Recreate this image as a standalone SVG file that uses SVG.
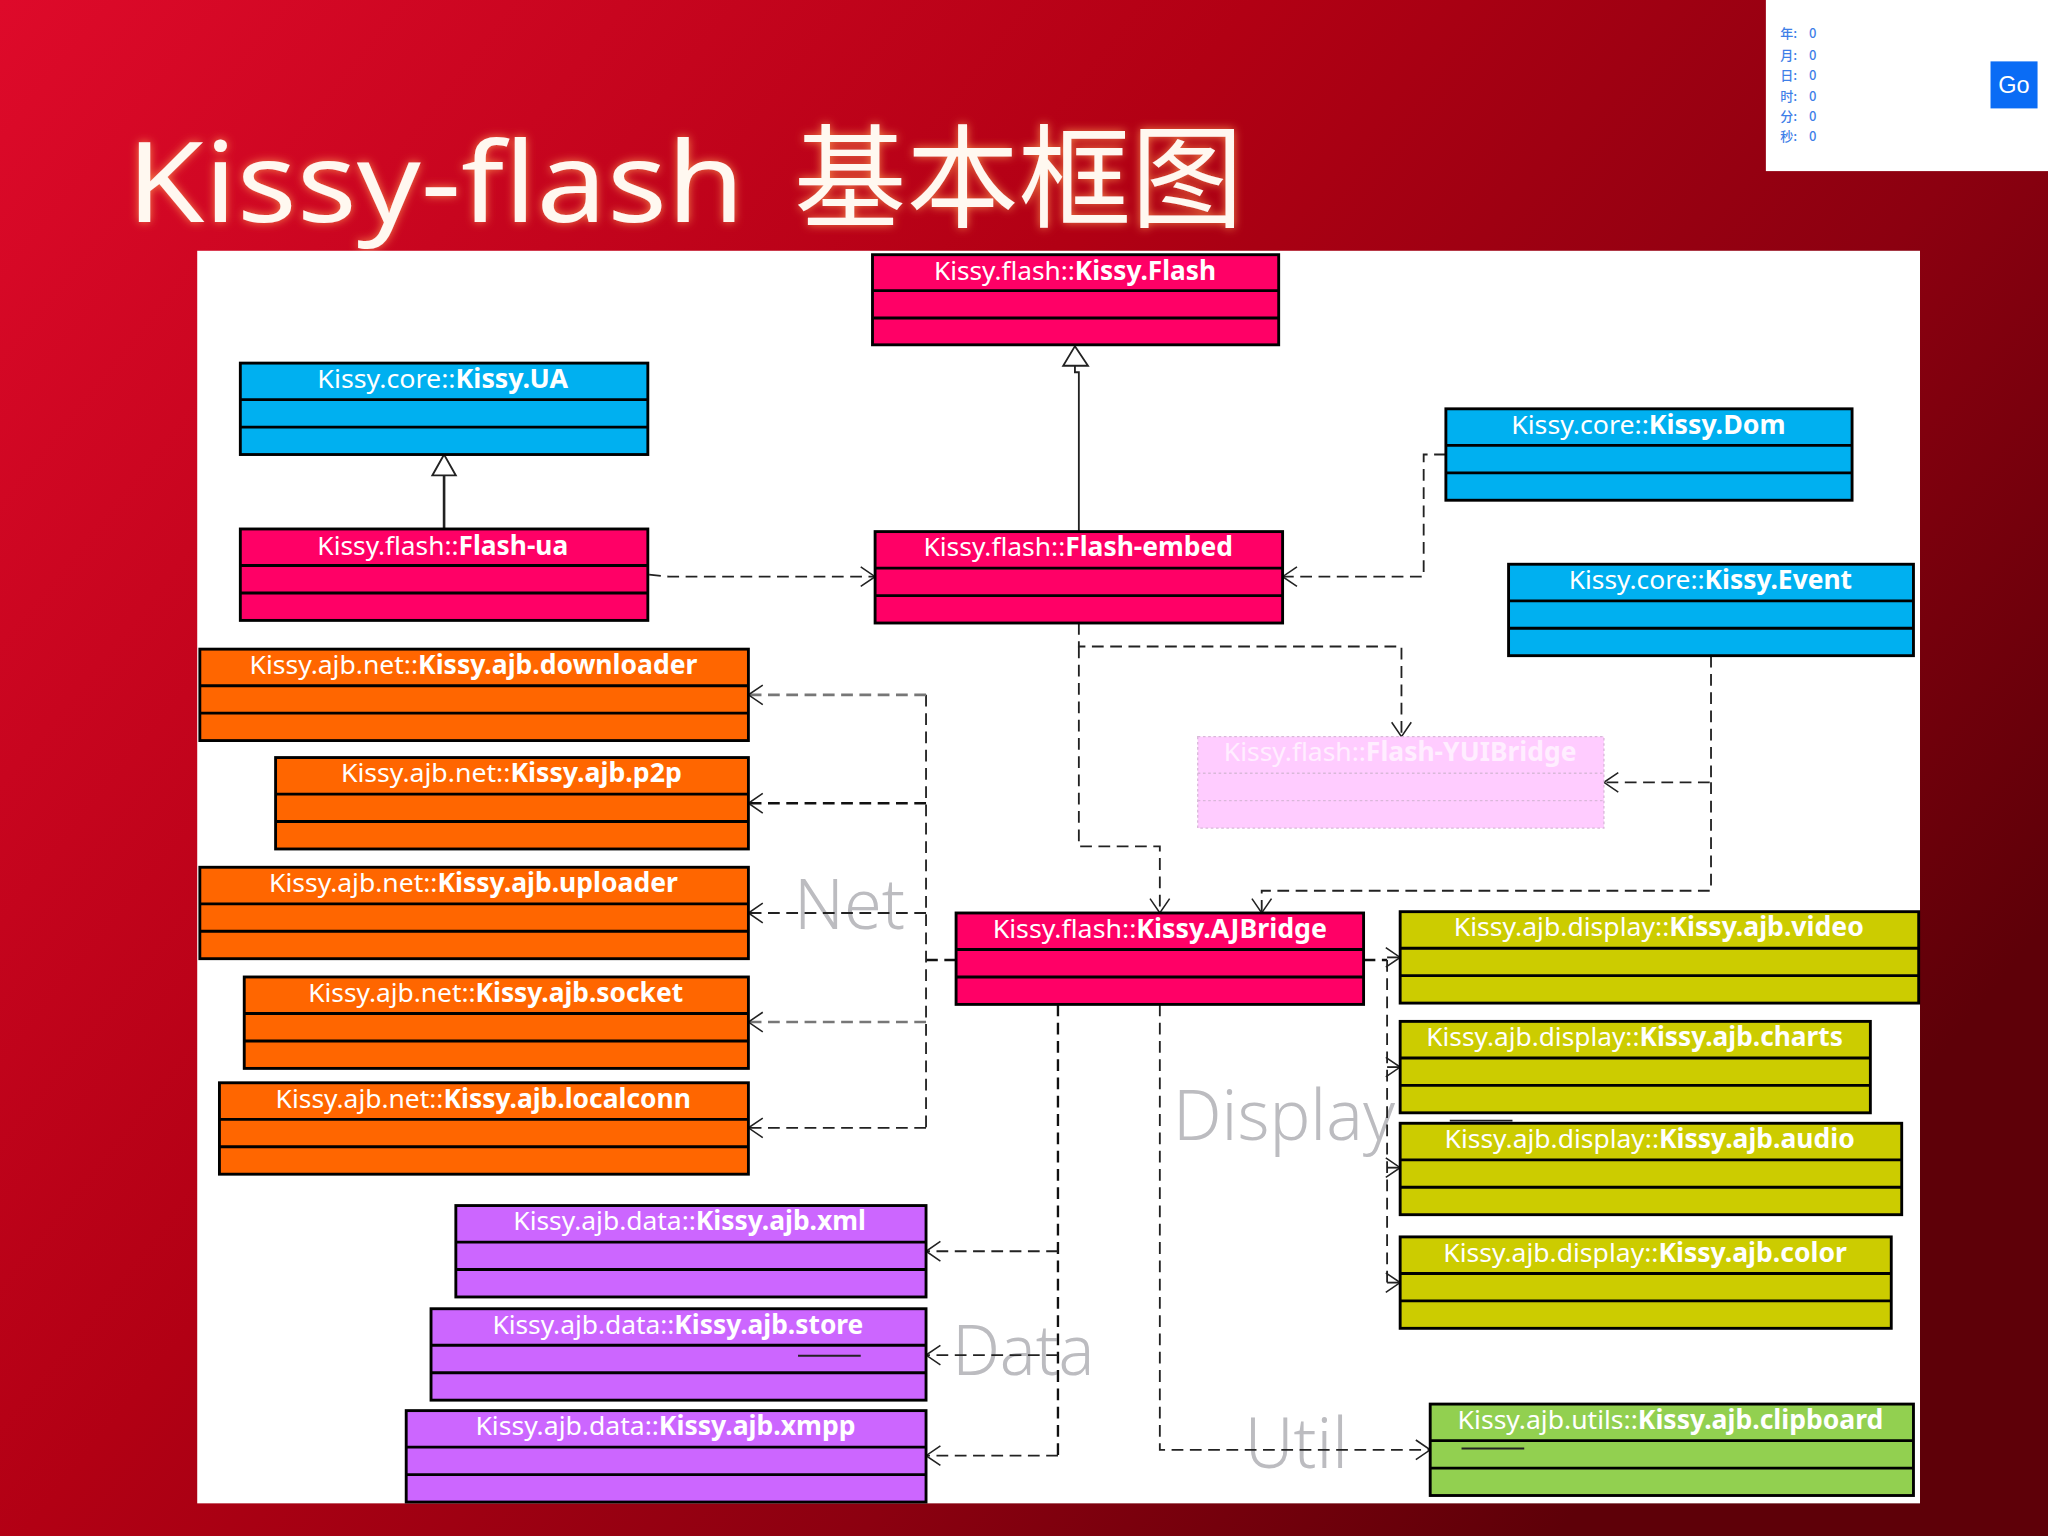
<svg xmlns="http://www.w3.org/2000/svg" width="2048" height="1536" viewBox="0 0 2048 1536">
<style>
.box{stroke:#000;stroke-width:2.2}
.div{stroke:#000;stroke-width:2.2;fill:none}
.pink{fill:#ff0066}.blue{fill:#00b0f0}.orange{fill:#ff6600}.purple{fill:#cc66ff}.olive{fill:#cccc00}.green{fill:#92d050}.pale{fill:#ffccff}
.yui .box,.yui .div{stroke:#d9b8d9;stroke-width:1;stroke-dasharray:2 2}
.t{font-family:"Noto Sans","Liberation Sans",sans-serif;font-size:20px;fill:#fff}
.t tspan{font-weight:700}
.yui .t{fill:#ffeeff}
.c{fill:none;stroke:#222;stroke-width:1.4;stroke-dasharray:9 5}
.c.g{stroke:#777;stroke-width:2}
.c.k{stroke:#111;stroke-width:1.8}
.a{marker-end:url(#open)}
.s{fill:none;stroke:#222;stroke-width:1.4}
.lab{font-family:"Noto Sans","Liberation Sans",sans-serif;font-weight:300;font-size:54px;fill:#bcbcc0}
.cnt{font-family:"Noto Sans CJK SC",sans-serif;font-size:10px;font-weight:500;fill:#3f7fe8}
.ti{font-size:86px;fill:#fff8f0;filter:url(#glow)}
</style>
<defs>
<linearGradient id="bg" x1="0" y1="0" x2="1" y2="0.6">
<stop offset="0" stop-color="#de0a2a"/><stop offset="0.45" stop-color="#b20014"/><stop offset="0.75" stop-color="#8c0010"/><stop offset="1" stop-color="#5e0008"/>
</linearGradient>
<marker id="open" markerUnits="userSpaceOnUse" markerWidth="18" markerHeight="20" refX="13" refY="10" orient="auto">
<path d="M2 2.500L13 10L2 17.500" fill="none" stroke="#222" stroke-width="1.2"/>
</marker>
<filter id="glow" x="-5%" y="-20%" width="110%" height="150%">
<feGaussianBlur in="SourceAlpha" stdDeviation="3.500" result="b"/>
<feFlood flood-color="#ff9a50" flood-opacity="0.85"/>
<feComposite in2="b" operator="in" result="g"/>
<feMerge><feMergeNode in="g"/><feMergeNode in="SourceGraphic"/></feMerge>
</filter>
</defs>
<rect width="2048" height="1536" fill="url(#bg)"/>
<g transform="scale(1.30612)">
<rect x="1352" y="0" width="216" height="131" fill="#fff"/>
<text class="cnt" x="1363" y="29">年:<tspan x="1385">0</tspan></text>
<text class="cnt" x="1363" y="46">月:<tspan x="1385">0</tspan></text>
<text class="cnt" x="1363" y="61">日:<tspan x="1385">0</tspan></text>
<text class="cnt" x="1363" y="77">时:<tspan x="1385">0</tspan></text>
<text class="cnt" x="1363" y="93">分:<tspan x="1385">0</tspan></text>
<text class="cnt" x="1363" y="108">秒:<tspan x="1385">0</tspan></text>
<rect x="1524" y="47" width="36" height="36" fill="#0a6cf5"/>
<text x="1542" y="71" text-anchor="middle" font-family="'Liberation Sans',sans-serif" font-size="18" fill="#fff">Go</text>
<text class="ti" x="97" y="170" font-family="'Noto Sans',sans-serif" textLength="473" lengthAdjust="spacingAndGlyphs">Kissy-flash</text>
<text class="ti" x="608" y="168" font-family="'Noto Sans CJK SC',sans-serif" textLength="344" lengthAdjust="spacingAndGlyphs">基本框图</text>
<rect x="151" y="192" width="1319" height="959" fill="#fff"/>

<text class="lab" x="608" y="711" textLength="85" lengthAdjust="spacingAndGlyphs">Net</text>
<text class="lab" x="898" y="873" textLength="170" lengthAdjust="spacingAndGlyphs">Display</text>
<text class="lab" x="729" y="1053" textLength="109" lengthAdjust="spacingAndGlyphs">Data</text>
<text class="lab" x="953" y="1124" textLength="79" lengthAdjust="spacingAndGlyphs">Util</text>

<g id="connectors">
<path class="s" d="M826 407V285H823V280"/>
<path d="M823 265L814 280H833Z" fill="#fff" stroke="#222" stroke-width="1.4"/>
<path class="s" style="stroke-width:2" d="M340 405V364"/>
<path d="M340 348L331 364H349Z" fill="#fff" stroke="#222" stroke-width="1.4"/>
<path class="c a" d="M497 440L512 441.500H670"/>
<path class="c a" d="M1107 348H1090V441.500H982"/>
<path class="c a" d="M826 477V495H1073V564"/>
<path class="c a" d="M826 495V648H888V699"/>
<path class="c a" d="M1310 502V599H1228"/>
<path class="c a" d="M1310 599V682H966V699"/>
<path class="c k" d="M732 735H709"/>
<path class="c" d="M709 532V863.500"/>
<path class="c g a" d="M709 532H573"/>
<path class="c k a" d="M709 615H573"/>
<path class="c a" d="M709 699H573"/>
<path class="c g a" d="M709 782.500H573"/>
<path class="c a" d="M709 863.500H573"/>
<path class="c k" d="M1044 735H1062"/>
<path class="c" d="M1062 735V982"/>
<path class="c a" d="M1062 733H1072"/>
<path class="c a" d="M1062 817H1072"/>
<path class="c a" d="M1062 894H1072"/>
<path class="c a" d="M1062 982H1072"/>
<path class="c k" d="M810 769V1114.500"/>
<path class="c a" d="M810 958H709"/>
<path class="c a" d="M810 1037.500H709"/>
<path class="c a" d="M810 1114.500H709"/>
<path class="c a" d="M888 769V1110H1095"/>
<path class="s" d="M1110 858H1158"/>
</g>

<g id="kissy-flash" class="pink"><rect class="box" x="668" y="195" width="311" height="69"/><path class="div" d="M668 222.500H979M668 243.500H979"/><text class="t" x="715" y="214" textLength="216" lengthAdjust="spacingAndGlyphs">Kissy.flash::<tspan>Kissy.Flash</tspan></text></g>
<g id="kissy-ua" class="blue"><rect class="box" x="184" y="278" width="312" height="70"/><path class="div" d="M184 306H496M184 327H496"/><text class="t" x="243" y="297" textLength="192" lengthAdjust="spacingAndGlyphs">Kissy.core::<tspan>Kissy.UA</tspan></text></g>
<g id="flash-ua" class="pink"><rect class="box" x="184" y="405" width="312" height="70"/><path class="div" d="M184 433H496M184 454H496"/><text class="t" x="243" y="425" textLength="192" lengthAdjust="spacingAndGlyphs">Kissy.flash::<tspan>Flash-ua</tspan></text></g>
<g id="flash-embed" class="pink"><rect class="box" x="670" y="407" width="312" height="70"/><path class="div" d="M670 435H982M670 456H982"/><text class="t" x="707" y="426" textLength="237" lengthAdjust="spacingAndGlyphs">Kissy.flash::<tspan>Flash-embed</tspan></text></g>
<g id="kissy-dom" class="blue"><rect class="box" x="1107" y="313" width="311" height="70"/><path class="div" d="M1107 341H1418M1107 362H1418"/><text class="t" x="1157" y="332" textLength="210" lengthAdjust="spacingAndGlyphs">Kissy.core::<tspan>Kissy.Dom</tspan></text></g>
<g id="kissy-event" class="blue"><rect class="box" x="1155" y="432" width="310" height="70"/><path class="div" d="M1155 460H1465M1155 481H1465"/><text class="t" x="1201" y="451" textLength="217" lengthAdjust="spacingAndGlyphs">Kissy.core::<tspan>Kissy.Event</tspan></text></g>
<g id="downloader" class="orange"><rect class="box" x="153" y="497" width="420" height="70"/><path class="div" d="M153 525H573M153 546H573"/><text class="t" x="191" y="516" textLength="343" lengthAdjust="spacingAndGlyphs">Kissy.ajb.net::<tspan>Kissy.ajb.downloader</tspan></text></g>
<g id="p2p" class="orange"><rect class="box" x="211" y="580" width="362" height="70"/><path class="div" d="M211 608H573M211 629H573"/><text class="t" x="261" y="599" textLength="261" lengthAdjust="spacingAndGlyphs">Kissy.ajb.net::<tspan>Kissy.ajb.p2p</tspan></text></g>
<g id="uploader" class="orange"><rect class="box" x="153" y="664" width="420" height="70"/><path class="div" d="M153 692H573M153 713H573"/><text class="t" x="206" y="683" textLength="313" lengthAdjust="spacingAndGlyphs">Kissy.ajb.net::<tspan>Kissy.ajb.uploader</tspan></text></g>
<g id="socket" class="orange"><rect class="box" x="187" y="748" width="386" height="70"/><path class="div" d="M187 776H573M187 797H573"/><text class="t" x="236" y="767" textLength="287" lengthAdjust="spacingAndGlyphs">Kissy.ajb.net::<tspan>Kissy.ajb.socket</tspan></text></g>
<g id="localconn" class="orange"><rect class="box" x="168" y="829" width="405" height="70"/><path class="div" d="M168 857H573M168 878H573"/><text class="t" x="211" y="848" textLength="318" lengthAdjust="spacingAndGlyphs">Kissy.ajb.net::<tspan>Kissy.ajb.localconn</tspan></text></g>
<g id="xml" class="purple"><rect class="box" x="349" y="923" width="360" height="70"/><path class="div" d="M349 951H709M349 972H709"/><text class="t" x="393" y="942" textLength="270" lengthAdjust="spacingAndGlyphs">Kissy.ajb.data::<tspan>Kissy.ajb.xml</tspan></text></g>
<g id="store" class="purple"><rect class="box" x="330" y="1002" width="379" height="70"/><path class="div" d="M330 1030H709M330 1051H709"/><text class="t" x="377" y="1021" textLength="284" lengthAdjust="spacingAndGlyphs">Kissy.ajb.data::<tspan>Kissy.ajb.store</tspan></text></g>
<g id="xmpp" class="purple"><rect class="box" x="311" y="1080" width="398" height="70"/><path class="div" d="M311 1108H709M311 1129H709"/><text class="t" x="364" y="1099" textLength="291" lengthAdjust="spacingAndGlyphs">Kissy.ajb.data::<tspan>Kissy.ajb.xmpp</tspan></text></g>
<g id="flash-yuibridge" class="pale yui"><rect class="box" x="917" y="564" width="311" height="70"/><path class="div" d="M917 592H1228M917 613H1228"/><text class="t" x="937" y="583" textLength="270" lengthAdjust="spacingAndGlyphs">Kissy.flash::<tspan>Flash-YUIBridge</tspan></text></g>
<g id="ajbridge" class="pink"><rect class="box" x="732" y="699" width="312" height="70"/><path class="div" d="M732 727H1044M732 748H1044"/><text class="t" x="760" y="718" textLength="256" lengthAdjust="spacingAndGlyphs">Kissy.flash::<tspan>Kissy.AJBridge</tspan></text></g>
<g id="video" class="olive"><rect class="box" x="1072" y="698" width="397" height="70"/><path class="div" d="M1072 726H1469M1072 747H1469"/><text class="t" x="1113" y="717" textLength="314" lengthAdjust="spacingAndGlyphs">Kissy.ajb.display::<tspan>Kissy.ajb.video</tspan></text></g>
<g id="charts" class="olive"><rect class="box" x="1072" y="782" width="360" height="70"/><path class="div" d="M1072 810H1432M1072 831H1432"/><text class="t" x="1092" y="801" textLength="319" lengthAdjust="spacingAndGlyphs">Kissy.ajb.display::<tspan>Kissy.ajb.charts</tspan></text></g>
<g id="audio" class="olive"><rect class="box" x="1072" y="860" width="384" height="70"/><path class="div" d="M1072 888H1456M1072 909H1456"/><text class="t" x="1106" y="879" textLength="314" lengthAdjust="spacingAndGlyphs">Kissy.ajb.display::<tspan>Kissy.ajb.audio</tspan></text></g>
<g id="color" class="olive"><rect class="box" x="1072" y="947" width="376" height="70"/><path class="div" d="M1072 975H1448M1072 996H1448"/><text class="t" x="1105" y="966" textLength="309" lengthAdjust="spacingAndGlyphs">Kissy.ajb.display::<tspan>Kissy.ajb.color</tspan></text></g>
<g id="clipboard" class="green"><rect class="box" x="1095" y="1075" width="370" height="70"/><path class="div" d="M1095 1103H1465M1095 1124H1465"/><text class="t" x="1116" y="1094" textLength="326" lengthAdjust="spacingAndGlyphs">Kissy.ajb.utils::<tspan>Kissy.ajb.clipboard</tspan></text></g>
<path class="s" d="M1119 1109H1167"/>
<path class="s" d="M611 1038H659"/>
</g>
</svg>
